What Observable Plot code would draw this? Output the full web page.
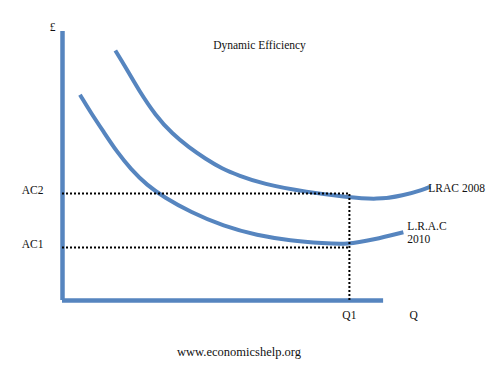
<!DOCTYPE html>
<html>
<head>
<meta charset="utf-8">
<script src="https://cdn.jsdelivr.net/npm/d3@7"></script>
<script src="https://cdn.jsdelivr.net/npm/@observablehq/plot@0.6"></script>
<style>
  html, body { margin: 0; padding: 0; background: #fff; }
  #wrap { width: 504px; }
  #caption { font-family: "Liberation Serif", serif; font-size: 12.5px; line-height: 14px;
             text-align: center; margin-top: 10px; padding-right: 26px; color: #111; }
</style>
</head>
<body>
<div id="wrap">
  <div id="chart"></div>
  <div id="caption">www.economicshelp.org</div>
</div>
<script>
// Quantity (x) and cost (y) (0–100 units)
const lrac2008Q    = [13.9, 16.6, 20.1, 24.5, 28.9, 33.2, 37.6, 42.0, 46.4, 52.6, 64.4, 74.9, 82.8, 89.7, 95.0, 96.8];
const lrac2008Cost = [92.6, 86.4, 77.8, 68.5, 61.7, 56.8, 52.5, 48.8, 46.3, 43.2, 40.1, 38.3, 37.3, 38.9, 41.1, 42.2];
const lrac2010Q    = [4.6, 7.4, 10.9, 14.4, 17.9, 22.3, 26.7, 33.7, 42.4, 51.2, 60.0, 68.7, 74.9, 81.8, 89.7];
const lrac2010Cost = [76.2, 69.7, 62.3, 54.9, 48.8, 42.6, 38.3, 32.7, 27.5, 24.1, 22.2, 21.2, 20.7, 22.5, 25.3];

const seriesNames = ["LRAC 2008", "L.R.A.C\n2010"];
const costLevels = [19.6, 39.6];          // AC1, AC2
const costLabels = ["AC1", "AC2"];
const qTicks = [75.5, 92.4];              // Q1, axis label Q
const qTickLabels = ["Q1", "Q"];
const axisExtent = {qMax: 84.5, costMax: 99.6};
const title = "Dynamic Efficiency";
const costSymbol = "£";

const upper = lrac2008Q.map((q, i) => ({q, c: lrac2008Cost[i], s: seriesNames[0]}));
const lower = lrac2010Q.map((q, i) => ({q, c: lrac2010Cost[i], s: seriesNames[1]}));

const blue = "#5685bf";
const font = {fontFamily: "Liberation Serif, serif", fontSize: "11.5px", color: "#111", background: "#fff"};

const chart = Plot.plot({
  width: 504,
  height: 335,
  marginLeft: 62,
  marginRight: 62,
  marginTop: 30,
  marginBottom: 35,
  style: font,
  x: {domain: [0, 100]},
  y: {domain: [0, 100]},
  marks: [
    // axes as thick blue rules
    Plot.ruleX([0], {y1: 0, y2: axisExtent.costMax, stroke: blue, strokeWidth: 4.5}),
    Plot.ruleY([0], {x1: 0, x2: axisExtent.qMax, stroke: blue, strokeWidth: 4.5}),
    // curves
    Plot.line(upper, {x: "q", y: "c", stroke: blue, strokeWidth: 4, curve: "basis", strokeLinecap: "butt"}),
    Plot.line(lower, {x: "q", y: "c", stroke: blue, strokeWidth: 4, curve: "basis", strokeLinecap: "butt"}),
    // dotted guides
    Plot.ruleY(costLevels, {x1: 0, x2: qTicks[0], stroke: "#000", strokeWidth: 2, strokeDasharray: "2,2"}),
    Plot.ruleX([qTicks[0]], {y1: 0, y2: costLevels[1], stroke: "#000", strokeWidth: 2, strokeDasharray: "2,2"}),
    // series labels at curve ends
    Plot.text(upper, Plot.selectLast({x: "q", y: "c", text: "s", textAnchor: "start", dx: -2, dy: 2, fill: "#111"})),
    Plot.text(lower, Plot.selectLast({x: "q", y: "c", text: "s", textAnchor: "start", dx: 4, dy: 0, lineHeight: 1.15, fill: "#111"})),
    // axes labels
    Plot.axisY(costLevels, {tickSize: 0, tickPadding: 19, tickFormat: (d, i) => costLabels[i], dy: -3, label: null}),
    Plot.axisX(qTicks, {tickSize: 0, tickPadding: 10, tickFormat: (d, i) => qTickLabels[i], label: null}),
    Plot.text([costSymbol], {x: 0, y: axisExtent.costMax, dx: -10, dy: -4, fill: "#111"}),
    Plot.text([title], {frameAnchor: "top", dx: 7, dy: 15, lineAnchor: "middle", fill: "#111"})
  ]
});
document.getElementById("chart").appendChild(chart);
</script>
</body>
</html>
